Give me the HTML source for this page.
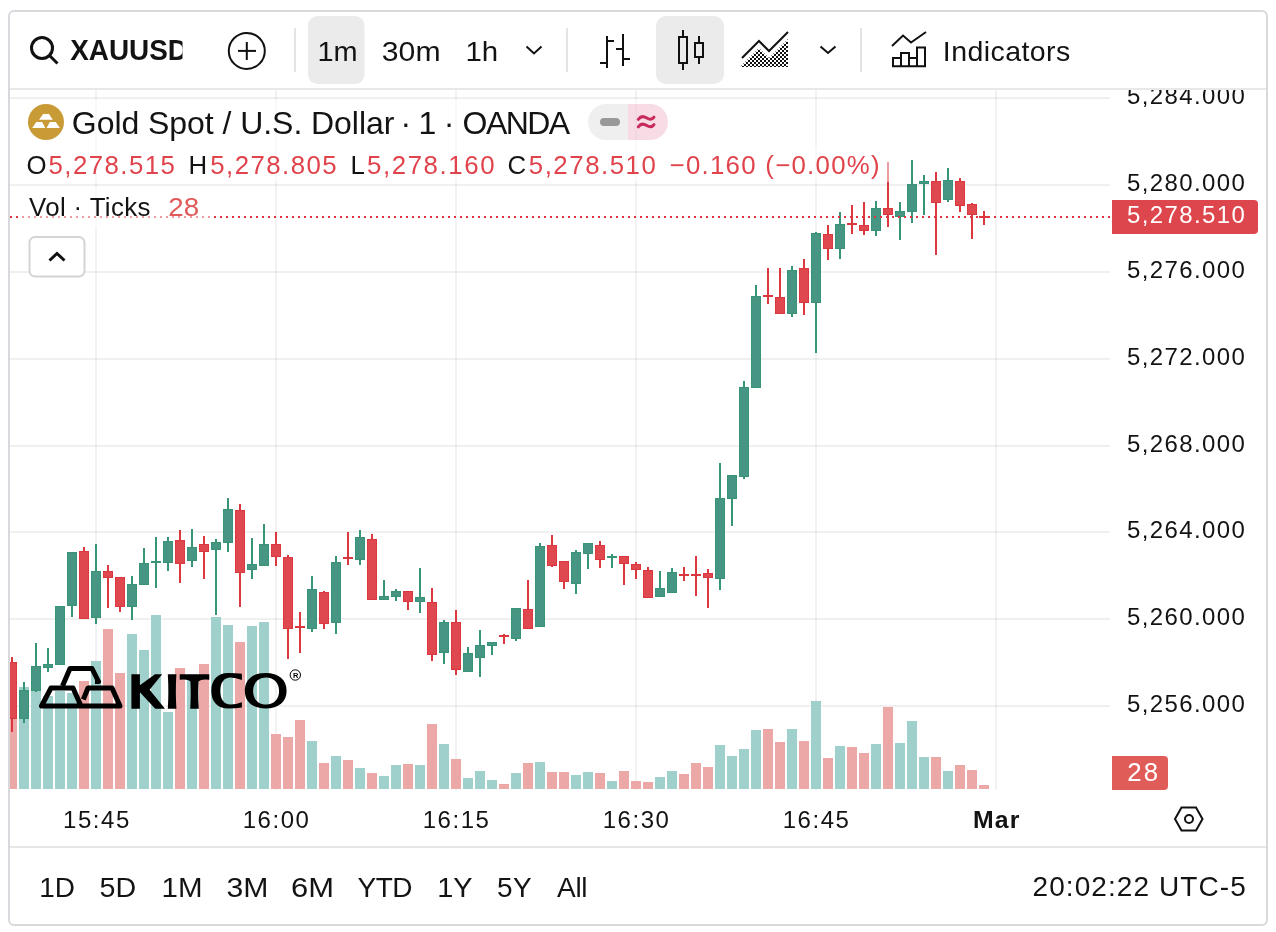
<!DOCTYPE html>
<html><head><meta charset="utf-8"><style>
html,body{margin:0;padding:0;background:#fff;width:1276px;height:932px;overflow:hidden}
svg{position:absolute;left:0;top:0;display:block;will-change:transform}
text{font-family:"Liberation Sans",sans-serif}
</style></head><body>
<svg width="1276" height="932" viewBox="0 0 1276 932" shape-rendering="crispEdges">
<defs>
<clipPath id="pane"><rect x="10" y="90" width="1100" height="700"/></clipPath>
<clipPath id="axis"><rect x="1110" y="90" width="156" height="756"/></clipPath>
<clipPath id="symclip"><rect x="60" y="20" width="122.5" height="60"/></clipPath>
<pattern id="dots" width="4" height="4" patternUnits="userSpaceOnUse" x="0" y="0"><rect x="0" y="0" width="2" height="2" fill="#111"/><rect x="2" y="2" width="2" height="2" fill="#111"/></pattern>
</defs>
<rect x="9" y="11" width="1258" height="914" rx="5" fill="#fff" stroke="#d7d9dc" stroke-width="2" shape-rendering="geometricPrecision"/>
<rect x="10" y="88" width="1256" height="2" fill="#e8e8e8"/>
<rect x="10" y="846" width="1256" height="2" fill="#e6e6e6"/>
<g clip-path="url(#pane)">
<rect x="95" y="90" width="2" height="700" fill="rgba(0,0,0,0.05)"/><rect x="275" y="90" width="2" height="700" fill="rgba(0,0,0,0.05)"/><rect x="455" y="90" width="2" height="700" fill="rgba(0,0,0,0.05)"/><rect x="635" y="90" width="2" height="700" fill="rgba(0,0,0,0.05)"/><rect x="815" y="90" width="2" height="700" fill="rgba(0,0,0,0.05)"/><rect x="995" y="90" width="2" height="700" fill="rgba(0,0,0,0.05)"/><rect x="10" y="705" width="1100" height="2" fill="rgba(0,0,0,0.06)"/><rect x="10" y="618" width="1100" height="2" fill="rgba(0,0,0,0.06)"/><rect x="10" y="531" width="1100" height="2" fill="rgba(0,0,0,0.06)"/><rect x="10" y="445" width="1100" height="2" fill="rgba(0,0,0,0.06)"/><rect x="10" y="358" width="1100" height="2" fill="rgba(0,0,0,0.06)"/><rect x="10" y="271" width="1100" height="2" fill="rgba(0,0,0,0.06)"/><rect x="10" y="184" width="1100" height="2" fill="rgba(0,0,0,0.06)"/><rect x="10" y="97" width="1100" height="2" fill="rgba(0,0,0,0.06)"/>
<rect x="7" y="700" width="10" height="89" fill="#eba8a6"/><rect x="19" y="687" width="10" height="102" fill="#a0d0cb"/><rect x="31" y="691" width="10" height="98" fill="#a0d0cb"/><rect x="43" y="696" width="10" height="93" fill="#a0d0cb"/><rect x="55" y="691" width="10" height="98" fill="#a0d0cb"/><rect x="67" y="693" width="10" height="96" fill="#a0d0cb"/><rect x="79" y="681" width="10" height="108" fill="#eba8a6"/><rect x="91" y="661" width="10" height="128" fill="#a0d0cb"/><rect x="103" y="629" width="10" height="160" fill="#eba8a6"/><rect x="115" y="673" width="10" height="116" fill="#eba8a6"/><rect x="127" y="634" width="10" height="155" fill="#a0d0cb"/><rect x="139" y="650" width="10" height="139" fill="#a0d0cb"/><rect x="151" y="615" width="10" height="174" fill="#a0d0cb"/><rect x="163" y="712" width="10" height="77" fill="#a0d0cb"/><rect x="175" y="668" width="10" height="121" fill="#eba8a6"/><rect x="187" y="676" width="10" height="113" fill="#a0d0cb"/><rect x="199" y="664" width="10" height="125" fill="#eba8a6"/><rect x="211" y="617" width="10" height="172" fill="#a0d0cb"/><rect x="223" y="625" width="10" height="164" fill="#a0d0cb"/><rect x="235" y="642" width="10" height="147" fill="#eba8a6"/><rect x="247" y="626" width="10" height="163" fill="#a0d0cb"/><rect x="259" y="622" width="10" height="167" fill="#a0d0cb"/><rect x="271" y="734" width="10" height="55" fill="#eba8a6"/><rect x="283" y="737" width="10" height="52" fill="#eba8a6"/><rect x="295" y="720" width="10" height="69" fill="#eba8a6"/><rect x="307" y="741" width="10" height="48" fill="#a0d0cb"/><rect x="319" y="763" width="10" height="26" fill="#eba8a6"/><rect x="331" y="756" width="10" height="33" fill="#a0d0cb"/><rect x="343" y="760" width="10" height="29" fill="#eba8a6"/><rect x="355" y="768" width="10" height="21" fill="#a0d0cb"/><rect x="367" y="773" width="10" height="16" fill="#eba8a6"/><rect x="379" y="776" width="10" height="13" fill="#a0d0cb"/><rect x="391" y="765" width="10" height="24" fill="#a0d0cb"/><rect x="403" y="764" width="10" height="25" fill="#eba8a6"/><rect x="415" y="765" width="10" height="24" fill="#a0d0cb"/><rect x="427" y="724" width="10" height="65" fill="#eba8a6"/><rect x="439" y="744" width="10" height="45" fill="#a0d0cb"/><rect x="451" y="759" width="10" height="30" fill="#eba8a6"/><rect x="463" y="778" width="10" height="11" fill="#a0d0cb"/><rect x="475" y="771" width="10" height="18" fill="#a0d0cb"/><rect x="487" y="780" width="10" height="9" fill="#a0d0cb"/><rect x="499" y="784" width="10" height="5" fill="#eba8a6"/><rect x="511" y="773" width="10" height="16" fill="#a0d0cb"/><rect x="523" y="763" width="10" height="26" fill="#eba8a6"/><rect x="535" y="762" width="10" height="27" fill="#a0d0cb"/><rect x="547" y="772" width="10" height="17" fill="#eba8a6"/><rect x="559" y="772" width="10" height="17" fill="#eba8a6"/><rect x="571" y="775" width="10" height="14" fill="#a0d0cb"/><rect x="583" y="772" width="10" height="17" fill="#a0d0cb"/><rect x="595" y="773" width="10" height="16" fill="#eba8a6"/><rect x="607" y="781" width="10" height="8" fill="#a0d0cb"/><rect x="619" y="771" width="10" height="18" fill="#eba8a6"/><rect x="631" y="781" width="10" height="8" fill="#eba8a6"/><rect x="643" y="782" width="10" height="7" fill="#eba8a6"/><rect x="655" y="777" width="10" height="12" fill="#a0d0cb"/><rect x="667" y="771" width="10" height="18" fill="#a0d0cb"/><rect x="679" y="774" width="10" height="15" fill="#eba8a6"/><rect x="691" y="763" width="10" height="26" fill="#eba8a6"/><rect x="703" y="767" width="10" height="22" fill="#eba8a6"/><rect x="715" y="745" width="10" height="44" fill="#a0d0cb"/><rect x="727" y="756" width="10" height="33" fill="#a0d0cb"/><rect x="739" y="749" width="10" height="40" fill="#a0d0cb"/><rect x="751" y="730" width="10" height="59" fill="#a0d0cb"/><rect x="763" y="729" width="10" height="60" fill="#eba8a6"/><rect x="775" y="742" width="10" height="47" fill="#eba8a6"/><rect x="787" y="729" width="10" height="60" fill="#a0d0cb"/><rect x="799" y="741" width="10" height="48" fill="#eba8a6"/><rect x="811" y="701" width="10" height="88" fill="#a0d0cb"/><rect x="823" y="758" width="10" height="31" fill="#eba8a6"/><rect x="835" y="746" width="10" height="43" fill="#a0d0cb"/><rect x="847" y="747" width="10" height="42" fill="#eba8a6"/><rect x="859" y="753" width="10" height="36" fill="#eba8a6"/><rect x="871" y="744" width="10" height="45" fill="#a0d0cb"/><rect x="883" y="707" width="10" height="82" fill="#eba8a6"/><rect x="895" y="743" width="10" height="46" fill="#a0d0cb"/><rect x="907" y="721" width="10" height="68" fill="#a0d0cb"/><rect x="919" y="757" width="10" height="32" fill="#a0d0cb"/><rect x="931" y="757" width="10" height="32" fill="#eba8a6"/><rect x="943" y="771" width="10" height="18" fill="#a0d0cb"/><rect x="955" y="765" width="10" height="24" fill="#eba8a6"/><rect x="967" y="770" width="10" height="19" fill="#eba8a6"/><rect x="979" y="785" width="10" height="4" fill="#eba8a6"/>
<g shape-rendering="auto"><g fill="none" stroke="#000" stroke-width="5" stroke-linejoin="round" stroke-linecap="butt">
<path d="M62.5 686 L70 668.5 L92 668.5 L98.5 681.5 L95 681.5"/>
<path d="M81 706 L73 688 L51 688 L41.5 706 L120 706 L112 688 L88 688 L83.3 699.5"/>
</g>
<path d="M131.4 674.3 H139.9 V685.3 L155 674.3 H162.2 L149.6 689.7 L165 708.8 H155.2 L139.9 692.2 V708.8 H131.4 Z M167.8 674.3 H176.4 Q175.3 691.5 176.4 708.8 H167.8 Q168.9 691.5 167.8 674.3 Z M179.7 674.3 H209.3 V679.7 Q201 678.6 198.6 681.6 Q197.9 695 198.8 708.8 H190.2 Q191.1 695 190.4 681.6 Q188 678.6 179.7 679.7 Z M241.9 673.7 Q236 672.9 228.5 672.9 C217 672.9 211.3 680.5 211.3 690.7 C211.3 701 217 708.5 228.5 708.5 Q236 708.5 241.9 707.6 V702.2 Q236 704.5 230.5 704.5 C224 704.5 220.2 699 220.2 690.9 C220.2 682.6 224 677.4 230.5 677.4 Q236 677.4 241.9 679.9 Z M244.80 690.70 C244.80 679.66 252.74 672.90 265.70 672.90 C278.66 672.90 286.60 679.66 286.60 690.70 C286.60 701.74 278.66 708.50 265.70 708.50 C252.74 708.50 244.80 701.74 244.80 690.70 Z M253.10 691.00 C253.10 682.84 258.30 677.40 266.10 677.40 C273.90 677.40 279.10 682.84 279.10 691.00 C279.10 699.16 273.90 704.60 266.10 704.60 C258.30 704.60 253.10 699.16 253.10 691.00 Z" fill="#000" fill-rule="evenodd"/>
<circle cx="295.3" cy="675" r="5.2" fill="none" stroke="#000" stroke-width="1.0"/>
<text x="295.6" y="678.0" font-family="Liberation Sans" font-weight="bold" font-size="7.5" text-anchor="middle" fill="#000">R</text>
</g>
<rect x="11" y="657" width="2" height="5" fill="#da383e"/><rect x="11" y="719" width="2" height="13" fill="#da383e"/><rect x="7" y="662" width="10" height="57" fill="#da383e"/><rect x="8" y="663" width="8" height="55" fill="#de484e"/><rect x="23" y="682" width="2" height="8" fill="#389476"/><rect x="23" y="719" width="2" height="4" fill="#389476"/><rect x="19" y="690" width="10" height="29" fill="#389476"/><rect x="20" y="691" width="8" height="27" fill="#469683"/><rect x="35" y="643" width="2" height="23" fill="#389476"/><rect x="35" y="691" width="2" height="1" fill="#389476"/><rect x="31" y="666" width="10" height="25" fill="#389476"/><rect x="32" y="667" width="8" height="23" fill="#469683"/><rect x="47" y="648" width="2" height="16" fill="#389476"/><rect x="47" y="668" width="2" height="4" fill="#389476"/><rect x="43" y="664" width="10" height="4" fill="#389476"/><rect x="44" y="665" width="8" height="2" fill="#469683"/><rect x="55" y="606" width="10" height="59" fill="#389476"/><rect x="56" y="607" width="8" height="57" fill="#469683"/><rect x="71" y="606" width="2" height="11" fill="#389476"/><rect x="67" y="552" width="10" height="54" fill="#389476"/><rect x="68" y="553" width="8" height="52" fill="#469683"/><rect x="83" y="547" width="2" height="4" fill="#da383e"/><rect x="79" y="551" width="10" height="68" fill="#da383e"/><rect x="80" y="552" width="8" height="66" fill="#de484e"/><rect x="95" y="544" width="2" height="27" fill="#389476"/><rect x="95" y="618" width="2" height="6" fill="#389476"/><rect x="91" y="571" width="10" height="47" fill="#389476"/><rect x="92" y="572" width="8" height="45" fill="#469683"/><rect x="107" y="565" width="2" height="6" fill="#da383e"/><rect x="107" y="578" width="2" height="30" fill="#da383e"/><rect x="103" y="571" width="10" height="7" fill="#da383e"/><rect x="104" y="572" width="8" height="5" fill="#de484e"/><rect x="119" y="607" width="2" height="5" fill="#da383e"/><rect x="115" y="577" width="10" height="30" fill="#da383e"/><rect x="116" y="578" width="8" height="28" fill="#de484e"/><rect x="131" y="576" width="2" height="8" fill="#389476"/><rect x="131" y="607" width="2" height="13" fill="#389476"/><rect x="127" y="584" width="10" height="23" fill="#389476"/><rect x="128" y="585" width="8" height="21" fill="#469683"/><rect x="143" y="548" width="2" height="15" fill="#389476"/><rect x="139" y="563" width="10" height="22" fill="#389476"/><rect x="140" y="564" width="8" height="20" fill="#469683"/><rect x="155" y="537" width="2" height="24" fill="#389476"/><rect x="155" y="563" width="2" height="25" fill="#389476"/><rect x="151" y="561" width="10" height="2" fill="#389476"/><rect x="167" y="537" width="2" height="4" fill="#389476"/><rect x="167" y="563" width="2" height="8" fill="#389476"/><rect x="163" y="541" width="10" height="22" fill="#389476"/><rect x="164" y="542" width="8" height="20" fill="#469683"/><rect x="179" y="530" width="2" height="10" fill="#da383e"/><rect x="179" y="564" width="2" height="19" fill="#da383e"/><rect x="175" y="540" width="10" height="24" fill="#da383e"/><rect x="176" y="541" width="8" height="22" fill="#de484e"/><rect x="191" y="529" width="2" height="18" fill="#389476"/><rect x="191" y="561" width="2" height="6" fill="#389476"/><rect x="187" y="547" width="10" height="14" fill="#389476"/><rect x="188" y="548" width="8" height="12" fill="#469683"/><rect x="203" y="536" width="2" height="8" fill="#da383e"/><rect x="203" y="552" width="2" height="27" fill="#da383e"/><rect x="199" y="544" width="10" height="8" fill="#da383e"/><rect x="200" y="545" width="8" height="6" fill="#de484e"/><rect x="215" y="539" width="2" height="3" fill="#389476"/><rect x="215" y="550" width="2" height="65" fill="#389476"/><rect x="211" y="542" width="10" height="8" fill="#389476"/><rect x="212" y="543" width="8" height="6" fill="#469683"/><rect x="227" y="498" width="2" height="11" fill="#389476"/><rect x="227" y="543" width="2" height="9" fill="#389476"/><rect x="223" y="509" width="10" height="34" fill="#389476"/><rect x="224" y="510" width="8" height="32" fill="#469683"/><rect x="239" y="504" width="2" height="6" fill="#da383e"/><rect x="239" y="573" width="2" height="34" fill="#da383e"/><rect x="235" y="510" width="10" height="63" fill="#da383e"/><rect x="236" y="511" width="8" height="61" fill="#de484e"/><rect x="251" y="538" width="2" height="26" fill="#389476"/><rect x="251" y="570" width="2" height="9" fill="#389476"/><rect x="247" y="564" width="10" height="6" fill="#389476"/><rect x="248" y="565" width="8" height="4" fill="#469683"/><rect x="263" y="524" width="2" height="20" fill="#389476"/><rect x="259" y="544" width="10" height="22" fill="#389476"/><rect x="260" y="545" width="8" height="20" fill="#469683"/><rect x="275" y="532" width="2" height="12" fill="#da383e"/><rect x="275" y="557" width="2" height="9" fill="#da383e"/><rect x="271" y="544" width="10" height="13" fill="#da383e"/><rect x="272" y="545" width="8" height="11" fill="#de484e"/><rect x="287" y="555" width="2" height="2" fill="#da383e"/><rect x="287" y="629" width="2" height="30" fill="#da383e"/><rect x="283" y="557" width="10" height="72" fill="#da383e"/><rect x="284" y="558" width="8" height="70" fill="#de484e"/><rect x="299" y="612" width="2" height="14" fill="#da383e"/><rect x="299" y="628" width="2" height="25" fill="#da383e"/><rect x="295" y="626" width="10" height="2" fill="#da383e"/><rect x="311" y="576" width="2" height="13" fill="#389476"/><rect x="311" y="629" width="2" height="3" fill="#389476"/><rect x="307" y="589" width="10" height="40" fill="#389476"/><rect x="308" y="590" width="8" height="38" fill="#469683"/><rect x="323" y="591" width="2" height="1" fill="#da383e"/><rect x="323" y="624" width="2" height="5" fill="#da383e"/><rect x="319" y="592" width="10" height="32" fill="#da383e"/><rect x="320" y="593" width="8" height="30" fill="#de484e"/><rect x="335" y="556" width="2" height="6" fill="#389476"/><rect x="335" y="623" width="2" height="11" fill="#389476"/><rect x="331" y="562" width="10" height="61" fill="#389476"/><rect x="332" y="563" width="8" height="59" fill="#469683"/><rect x="347" y="532" width="2" height="25" fill="#da383e"/><rect x="347" y="559" width="2" height="6" fill="#da383e"/><rect x="343" y="557" width="10" height="2" fill="#da383e"/><rect x="359" y="530" width="2" height="7" fill="#389476"/><rect x="359" y="560" width="2" height="5" fill="#389476"/><rect x="355" y="537" width="10" height="23" fill="#389476"/><rect x="356" y="538" width="8" height="21" fill="#469683"/><rect x="371" y="534" width="2" height="5" fill="#da383e"/><rect x="367" y="539" width="10" height="61" fill="#da383e"/><rect x="368" y="540" width="8" height="59" fill="#de484e"/><rect x="383" y="580" width="2" height="16" fill="#389476"/><rect x="379" y="596" width="10" height="4" fill="#389476"/><rect x="380" y="597" width="8" height="2" fill="#469683"/><rect x="395" y="589" width="2" height="2" fill="#389476"/><rect x="395" y="597" width="2" height="4" fill="#389476"/><rect x="391" y="591" width="10" height="6" fill="#389476"/><rect x="392" y="592" width="8" height="4" fill="#469683"/><rect x="407" y="602" width="2" height="8" fill="#da383e"/><rect x="403" y="591" width="10" height="11" fill="#da383e"/><rect x="404" y="592" width="8" height="9" fill="#de484e"/><rect x="419" y="568" width="2" height="29" fill="#389476"/><rect x="419" y="602" width="2" height="11" fill="#389476"/><rect x="415" y="597" width="10" height="5" fill="#389476"/><rect x="416" y="598" width="8" height="3" fill="#469683"/><rect x="431" y="588" width="2" height="14" fill="#da383e"/><rect x="431" y="655" width="2" height="6" fill="#da383e"/><rect x="427" y="602" width="10" height="53" fill="#da383e"/><rect x="428" y="603" width="8" height="51" fill="#de484e"/><rect x="443" y="620" width="2" height="2" fill="#389476"/><rect x="443" y="653" width="2" height="11" fill="#389476"/><rect x="439" y="622" width="10" height="31" fill="#389476"/><rect x="440" y="623" width="8" height="29" fill="#469683"/><rect x="455" y="610" width="2" height="12" fill="#da383e"/><rect x="455" y="670" width="2" height="5" fill="#da383e"/><rect x="451" y="622" width="10" height="48" fill="#da383e"/><rect x="452" y="623" width="8" height="46" fill="#de484e"/><rect x="467" y="647" width="2" height="6" fill="#389476"/><rect x="463" y="653" width="10" height="19" fill="#389476"/><rect x="464" y="654" width="8" height="17" fill="#469683"/><rect x="479" y="630" width="2" height="15" fill="#389476"/><rect x="479" y="658" width="2" height="19" fill="#389476"/><rect x="475" y="645" width="10" height="13" fill="#389476"/><rect x="476" y="646" width="8" height="11" fill="#469683"/><rect x="491" y="646" width="2" height="9" fill="#389476"/><rect x="487" y="642" width="10" height="4" fill="#389476"/><rect x="488" y="643" width="8" height="2" fill="#469683"/><rect x="503" y="634" width="2" height="1" fill="#da383e"/><rect x="503" y="637" width="2" height="7" fill="#da383e"/><rect x="499" y="635" width="10" height="2" fill="#da383e"/><rect x="515" y="639" width="2" height="2" fill="#389476"/><rect x="511" y="608" width="10" height="31" fill="#389476"/><rect x="512" y="609" width="8" height="29" fill="#469683"/><rect x="527" y="580" width="2" height="29" fill="#da383e"/><rect x="523" y="609" width="10" height="20" fill="#da383e"/><rect x="524" y="610" width="8" height="18" fill="#de484e"/><rect x="539" y="543" width="2" height="3" fill="#389476"/><rect x="535" y="546" width="10" height="81" fill="#389476"/><rect x="536" y="547" width="8" height="79" fill="#469683"/><rect x="551" y="535" width="2" height="10" fill="#da383e"/><rect x="551" y="566" width="2" height="1" fill="#da383e"/><rect x="547" y="545" width="10" height="21" fill="#da383e"/><rect x="548" y="546" width="8" height="19" fill="#de484e"/><rect x="563" y="582" width="2" height="7" fill="#da383e"/><rect x="559" y="561" width="10" height="21" fill="#da383e"/><rect x="560" y="562" width="8" height="19" fill="#de484e"/><rect x="575" y="550" width="2" height="2" fill="#389476"/><rect x="575" y="584" width="2" height="10" fill="#389476"/><rect x="571" y="552" width="10" height="32" fill="#389476"/><rect x="572" y="553" width="8" height="30" fill="#469683"/><rect x="587" y="554" width="2" height="15" fill="#389476"/><rect x="583" y="543" width="10" height="11" fill="#389476"/><rect x="584" y="544" width="8" height="9" fill="#469683"/><rect x="599" y="541" width="2" height="4" fill="#da383e"/><rect x="599" y="560" width="2" height="8" fill="#da383e"/><rect x="595" y="545" width="10" height="15" fill="#da383e"/><rect x="596" y="546" width="8" height="13" fill="#de484e"/><rect x="611" y="554" width="2" height="2" fill="#389476"/><rect x="611" y="558" width="2" height="10" fill="#389476"/><rect x="607" y="556" width="10" height="2" fill="#389476"/><rect x="623" y="564" width="2" height="21" fill="#da383e"/><rect x="619" y="556" width="10" height="8" fill="#da383e"/><rect x="620" y="557" width="8" height="6" fill="#de484e"/><rect x="635" y="562" width="2" height="2" fill="#da383e"/><rect x="635" y="570" width="2" height="9" fill="#da383e"/><rect x="631" y="564" width="10" height="6" fill="#da383e"/><rect x="632" y="565" width="8" height="4" fill="#de484e"/><rect x="647" y="567" width="2" height="3" fill="#da383e"/><rect x="643" y="570" width="10" height="28" fill="#da383e"/><rect x="644" y="571" width="8" height="26" fill="#de484e"/><rect x="659" y="571" width="2" height="17" fill="#389476"/><rect x="655" y="588" width="10" height="9" fill="#389476"/><rect x="656" y="589" width="8" height="7" fill="#469683"/><rect x="671" y="568" width="2" height="4" fill="#389476"/><rect x="667" y="572" width="10" height="21" fill="#389476"/><rect x="668" y="573" width="8" height="19" fill="#469683"/><rect x="683" y="567" width="2" height="7" fill="#da383e"/><rect x="683" y="576" width="2" height="5" fill="#da383e"/><rect x="679" y="574" width="10" height="2" fill="#da383e"/><rect x="695" y="556" width="2" height="18" fill="#da383e"/><rect x="695" y="576" width="2" height="20" fill="#da383e"/><rect x="691" y="574" width="10" height="2" fill="#da383e"/><rect x="707" y="569" width="2" height="4" fill="#da383e"/><rect x="707" y="578" width="2" height="30" fill="#da383e"/><rect x="703" y="573" width="10" height="5" fill="#da383e"/><rect x="704" y="574" width="8" height="3" fill="#de484e"/><rect x="719" y="463" width="2" height="35" fill="#389476"/><rect x="719" y="579" width="2" height="11" fill="#389476"/><rect x="715" y="498" width="10" height="81" fill="#389476"/><rect x="716" y="499" width="8" height="79" fill="#469683"/><rect x="731" y="499" width="2" height="27" fill="#389476"/><rect x="727" y="475" width="10" height="24" fill="#389476"/><rect x="728" y="476" width="8" height="22" fill="#469683"/><rect x="743" y="381" width="2" height="6" fill="#389476"/><rect x="743" y="477" width="2" height="2" fill="#389476"/><rect x="739" y="387" width="10" height="90" fill="#389476"/><rect x="740" y="388" width="8" height="88" fill="#469683"/><rect x="755" y="285" width="2" height="11" fill="#389476"/><rect x="751" y="296" width="10" height="92" fill="#389476"/><rect x="752" y="297" width="8" height="90" fill="#469683"/><rect x="767" y="268" width="2" height="27" fill="#da383e"/><rect x="767" y="297" width="2" height="7" fill="#da383e"/><rect x="763" y="295" width="10" height="2" fill="#da383e"/><rect x="779" y="268" width="2" height="29" fill="#da383e"/><rect x="775" y="297" width="10" height="17" fill="#da383e"/><rect x="776" y="298" width="8" height="15" fill="#de484e"/><rect x="791" y="266" width="2" height="4" fill="#389476"/><rect x="791" y="314" width="2" height="3" fill="#389476"/><rect x="787" y="270" width="10" height="44" fill="#389476"/><rect x="788" y="271" width="8" height="42" fill="#469683"/><rect x="803" y="259" width="2" height="9" fill="#da383e"/><rect x="803" y="303" width="2" height="12" fill="#da383e"/><rect x="799" y="268" width="10" height="35" fill="#da383e"/><rect x="800" y="269" width="8" height="33" fill="#de484e"/><rect x="815" y="232" width="2" height="1" fill="#389476"/><rect x="815" y="303" width="2" height="50" fill="#389476"/><rect x="811" y="233" width="10" height="70" fill="#389476"/><rect x="812" y="234" width="8" height="68" fill="#469683"/><rect x="827" y="225" width="2" height="9" fill="#da383e"/><rect x="827" y="249" width="2" height="11" fill="#da383e"/><rect x="823" y="234" width="10" height="15" fill="#da383e"/><rect x="824" y="235" width="8" height="13" fill="#de484e"/><rect x="839" y="212" width="2" height="12" fill="#389476"/><rect x="839" y="249" width="2" height="10" fill="#389476"/><rect x="835" y="224" width="10" height="25" fill="#389476"/><rect x="836" y="225" width="8" height="23" fill="#469683"/><rect x="851" y="205" width="2" height="18" fill="#da383e"/><rect x="851" y="225" width="2" height="9" fill="#da383e"/><rect x="847" y="223" width="10" height="2" fill="#da383e"/><rect x="863" y="202" width="2" height="23" fill="#da383e"/><rect x="863" y="231" width="2" height="4" fill="#da383e"/><rect x="859" y="225" width="10" height="6" fill="#da383e"/><rect x="860" y="226" width="8" height="4" fill="#de484e"/><rect x="875" y="201" width="2" height="7" fill="#389476"/><rect x="875" y="231" width="2" height="5" fill="#389476"/><rect x="871" y="208" width="10" height="23" fill="#389476"/><rect x="872" y="209" width="8" height="21" fill="#469683"/><rect x="887" y="162" width="2" height="46" fill="#da383e"/><rect x="887" y="215" width="2" height="12" fill="#da383e"/><rect x="883" y="208" width="10" height="7" fill="#da383e"/><rect x="884" y="209" width="8" height="5" fill="#de484e"/><rect x="899" y="202" width="2" height="9" fill="#389476"/><rect x="899" y="217" width="2" height="23" fill="#389476"/><rect x="895" y="211" width="10" height="6" fill="#389476"/><rect x="896" y="212" width="8" height="4" fill="#469683"/><rect x="911" y="160" width="2" height="24" fill="#389476"/><rect x="911" y="212" width="2" height="11" fill="#389476"/><rect x="907" y="184" width="10" height="28" fill="#389476"/><rect x="908" y="185" width="8" height="26" fill="#469683"/><rect x="923" y="175" width="2" height="6" fill="#389476"/><rect x="923" y="184" width="2" height="31" fill="#389476"/><rect x="919" y="181" width="10" height="3" fill="#389476"/><rect x="920" y="182" width="8" height="1" fill="#469683"/><rect x="935" y="172" width="2" height="9" fill="#da383e"/><rect x="935" y="203" width="2" height="52" fill="#da383e"/><rect x="931" y="181" width="10" height="22" fill="#da383e"/><rect x="932" y="182" width="8" height="20" fill="#de484e"/><rect x="947" y="168" width="2" height="12" fill="#389476"/><rect x="947" y="200" width="2" height="2" fill="#389476"/><rect x="943" y="180" width="10" height="20" fill="#389476"/><rect x="944" y="181" width="8" height="18" fill="#469683"/><rect x="959" y="178" width="2" height="3" fill="#da383e"/><rect x="959" y="206" width="2" height="6" fill="#da383e"/><rect x="955" y="181" width="10" height="25" fill="#da383e"/><rect x="956" y="182" width="8" height="23" fill="#de484e"/><rect x="971" y="203" width="2" height="1" fill="#da383e"/><rect x="971" y="215" width="2" height="24" fill="#da383e"/><rect x="967" y="204" width="10" height="11" fill="#da383e"/><rect x="968" y="205" width="8" height="9" fill="#de484e"/><rect x="983" y="211" width="2" height="5" fill="#da383e"/><rect x="983" y="218" width="2" height="7" fill="#da383e"/><rect x="979" y="216" width="10" height="2" fill="#da383e"/>
<line x1="10" y1="217" x2="1110" y2="217" stroke="#df3341" stroke-width="2" stroke-dasharray="2 4"/>
<rect x="20" y="99" width="656" height="47" fill="rgba(255,255,255,0.5)"/>
<rect x="20" y="146" width="870" height="36" fill="rgba(255,255,255,0.5)"/>
<rect x="20" y="187" width="192" height="42" fill="rgba(255,255,255,0.5)"/>
</g>
<g shape-rendering="geometricPrecision">

<!-- search -->
<circle cx="42" cy="48" r="10.5" fill="none" stroke="#111" stroke-width="3"/>
<line x1="49.5" y1="55.5" x2="57.5" y2="63.5" stroke="#111" stroke-width="3"/>
<!-- plus circle -->
<circle cx="246.8" cy="50.9" r="18" fill="none" stroke="#111" stroke-width="2"/>
<rect x="238" y="49.9" width="18" height="2" fill="#111"/>
<rect x="245.8" y="42" width="2" height="18" fill="#111"/>
<!-- separators -->
<rect x="294" y="28" width="2" height="44" fill="#e3e3e3"/>
<rect x="566" y="28" width="2" height="44" fill="#e3e3e3"/>
<rect x="860" y="28" width="2" height="44" fill="#e3e3e3"/>
<!-- active bgs -->
<rect x="308" y="16" width="56.5" height="68" rx="9.5" fill="#ebebeb"/>
<rect x="656" y="16" width="68" height="68" rx="10" fill="#ebebeb"/>
<!-- chevron -->
<path d="M526.5 46.5 L534 53.5 L541.5 46.5" fill="none" stroke="#111" stroke-width="2"/>
<path d="M820.5 46.5 L828 53 L835.5 46.5" fill="none" stroke="#111" stroke-width="2"/>
<!-- bars icon -->
<g fill="#111">
<rect x="606" y="36" width="2" height="32"/><rect x="608" y="40" width="6" height="2"/><rect x="600" y="62" width="6" height="2"/>
<rect x="622" y="34" width="2" height="32"/><rect x="616" y="48" width="6" height="2"/><rect x="624" y="58" width="6" height="2"/>
</g>
<!-- candles icon -->
<g fill="none" stroke="#111" stroke-width="2">
<rect x="679" y="37" width="8" height="26"/>
<rect x="695" y="43" width="8" height="14"/>
</g>
<g fill="#111">
<rect x="682" y="30" width="2" height="6"/><rect x="682" y="64" width="2" height="6"/>
<rect x="698" y="36" width="2" height="6"/><rect x="698" y="58" width="2" height="6"/>
</g>
<!-- area icon -->
<path d="M740 67 L759 48 L769 58 L788 39 L788 67 Z" fill="url(#dots)"/>
<path d="M742 58 L759 41 L769 51 L788 32" fill="none" stroke="#111" stroke-width="2"/>
<!-- indicators icon -->
<path d="M892 46 L903 35.5 L911 42.5 L926 32" fill="none" stroke="#111" stroke-width="2"/>
<path d="M893 66.3 V58 H901 V53 H909 V58 H917 V47.5 H925 V66.3 Z M901 58 V66 M909 58 V66 M917 58 V66" fill="none" stroke="#111" stroke-width="2"/>
<!-- gold icon -->
<circle cx="46" cy="122" r="18" fill="#c99b37"/>
<path d="M43.2 114 H49 L52.8 119.8 H39.1 Z M36.3 122 H42.1 L45.3 128 H32.2 Z M49.8 122 H55.8 L59.9 128 H46.6 Z" fill="#fff"/>
<!-- pill -->
<path d="M606 104 H628 V140 H606 A18 18 0 0 1 606 104 Z" fill="rgba(110,110,110,0.11)"/>
<path d="M628 104 H650 A18 18 0 0 1 650 140 H628 Z" fill="rgba(210,50,100,0.17)"/>
<rect x="600" y="118" width="20" height="8" rx="4" fill="#999"/>
<g fill="none" stroke="#c92a5c" stroke-width="3" stroke-linecap="round">
<path d="M638.3 119.3 C640.5 116.3, 643.5 116.0, 646.3 117.8 S 651.8 120.3, 654 117.2"/>
<path d="M638.3 126.8 C640.5 123.8, 643.5 123.5, 646.3 125.3 S 651.8 127.8, 654 124.7"/>
</g>
<!-- collapse button -->
<rect x="29.5" y="237" width="55" height="39.5" rx="5.5" fill="#fff" stroke="#d4d4d4" stroke-width="2"/>
<path d="M49.5 260.5 L57 253.5 L64.5 260.5" fill="none" stroke="#111" stroke-width="3"/>
<!-- settings hex -->
<path d="M1181.5 807.5 H1196 L1202.5 819 L1196 830.5 H1181.5 L1175 819 Z" fill="none" stroke="#111" stroke-width="2"/>
<circle cx="1189" cy="819" r="4" fill="none" stroke="#111" stroke-width="2"/>

</g>
<g clip-path="url(#axis)" shape-rendering="geometricPrecision">

</g>
<g shape-rendering="geometricPrecision">
<g clip-path="url(#symclip)"><text x="0" y="0" transform="translate(70.25 60.0) scale(0.9455 1)" font-size="29.5" fill="#131313" font-weight="bold" xml:space="preserve">XAUUSD</text></g><text x="0" y="0" transform="translate(317.44 61.4) scale(1.0314 1)" font-size="28" fill="#131313" font-weight="normal" xml:space="preserve">1m</text><text x="0" y="0" transform="translate(381.82 61.4) scale(1.0788 1)" font-size="28" fill="#131313" font-weight="normal" xml:space="preserve">30m</text><text x="0" y="0" transform="translate(465.40 61.4) scale(1.0519 1)" font-size="28" fill="#131313" font-weight="normal" xml:space="preserve">1h</text><text x="942.8" y="61.4" font-size="28.5" fill="#131313" text-anchor="start" font-weight="normal" letter-spacing="0.43" xml:space="preserve">Indicators</text><text x="71.8" y="133.7" font-size="32" fill="#131313" text-anchor="start" font-weight="normal" letter-spacing="-0.05" xml:space="preserve">Gold Spot / U.S. Dollar</text><text x="400.4" y="133.7" font-size="32" fill="#131313" text-anchor="start" font-weight="normal" letter-spacing="0.0" xml:space="preserve">·</text><text x="443.8" y="133.7" font-size="32" fill="#131313" text-anchor="start" font-weight="normal" letter-spacing="0.0" xml:space="preserve">·</text><text x="462.6" y="133.7" font-size="32" fill="#131313" text-anchor="start" font-weight="normal" letter-spacing="-1.55" xml:space="preserve">OANDA</text><text x="418.5" y="133.7" font-size="32" fill="#131313" text-anchor="start" font-weight="normal" letter-spacing="0.0" xml:space="preserve">1</text><text x="26.4" y="173.7" font-size="25.8" fill="#131313" text-anchor="start" font-weight="normal" letter-spacing="0.0" xml:space="preserve">O</text><text x="188.5" y="173.7" font-size="25.8" fill="#131313" text-anchor="start" font-weight="normal" letter-spacing="0.0" xml:space="preserve">H</text><text x="350.6" y="173.7" font-size="25.8" fill="#131313" text-anchor="start" font-weight="normal" letter-spacing="0.0" xml:space="preserve">L</text><text x="507.6" y="173.7" font-size="25.8" fill="#131313" text-anchor="start" font-weight="normal" letter-spacing="0.0" xml:space="preserve">C</text><text x="48.5" y="173.7" font-size="25.8" fill="#e0434c" text-anchor="start" font-weight="normal" letter-spacing="1.46" xml:space="preserve">5,278.515</text><text x="210.3" y="173.7" font-size="25.8" fill="#e0434c" text-anchor="start" font-weight="normal" letter-spacing="1.45" xml:space="preserve">5,278.805</text><text x="367.0" y="173.7" font-size="25.8" fill="#e0434c" text-anchor="start" font-weight="normal" letter-spacing="1.59" xml:space="preserve">5,278.160</text><text x="528.8" y="173.7" font-size="25.8" fill="#e0434c" text-anchor="start" font-weight="normal" letter-spacing="1.53" xml:space="preserve">5,278.510</text><text x="669.6" y="173.7" font-size="25.8" fill="#e0434c" text-anchor="start" font-weight="normal" letter-spacing="1.27" xml:space="preserve">−0.160 (−0.00%)</text><text x="29.1" y="215.6" font-size="25.8" fill="#131313" text-anchor="start" font-weight="normal" letter-spacing="0.37" xml:space="preserve">Vol · Ticks</text><text x="0" y="0" transform="translate(168.33 215.6) scale(1.0741 1)" font-size="25.8" fill="#e05a5a" font-weight="normal" xml:space="preserve">28</text><g clip-path="url(#axis)"><text x="1127.0" y="712.2" font-size="24" fill="#131313" text-anchor="start" font-weight="normal" letter-spacing="1.39" xml:space="preserve">5,256.000</text></g><g clip-path="url(#axis)"><text x="1127.0" y="625.2" font-size="24" fill="#131313" text-anchor="start" font-weight="normal" letter-spacing="1.39" xml:space="preserve">5,260.000</text></g><g clip-path="url(#axis)"><text x="1127.0" y="538.2" font-size="24" fill="#131313" text-anchor="start" font-weight="normal" letter-spacing="1.39" xml:space="preserve">5,264.000</text></g><g clip-path="url(#axis)"><text x="1127.0" y="452.2" font-size="24" fill="#131313" text-anchor="start" font-weight="normal" letter-spacing="1.39" xml:space="preserve">5,268.000</text></g><g clip-path="url(#axis)"><text x="1127.0" y="365.2" font-size="24" fill="#131313" text-anchor="start" font-weight="normal" letter-spacing="1.39" xml:space="preserve">5,272.000</text></g><g clip-path="url(#axis)"><text x="1127.0" y="278.2" font-size="24" fill="#131313" text-anchor="start" font-weight="normal" letter-spacing="1.39" xml:space="preserve">5,276.000</text></g><g clip-path="url(#axis)"><text x="1127.0" y="191.2" font-size="24" fill="#131313" text-anchor="start" font-weight="normal" letter-spacing="1.39" xml:space="preserve">5,280.000</text></g><g clip-path="url(#axis)"><text x="1127.0" y="104.2" font-size="24" fill="#131313" text-anchor="start" font-weight="normal" letter-spacing="1.39" xml:space="preserve">5,284.000</text></g><path d="M1112 200 H1254 A4 4 0 0 1 1258 204 V230 A4 4 0 0 1 1254 234 H1112 Z" fill="#dd464c"/><text x="1127.0" y="222.9" font-size="24" fill="#fff" text-anchor="start" font-weight="normal" letter-spacing="1.39" xml:space="preserve">5,278.510</text><path d="M1112 756 H1164 A4 4 0 0 1 1168 760 V786 A4 4 0 0 1 1164 790 H1112 Z" fill="#e05c58"/><text x="1127.3" y="780.5" font-size="25.8" fill="#fff" text-anchor="start" font-weight="normal" letter-spacing="2.0" xml:space="preserve">28</text><text x="63.0" y="827.8" font-size="24" fill="#131313" text-anchor="start" font-weight="normal" letter-spacing="1.55" xml:space="preserve">15:45</text><text x="242.7" y="827.8" font-size="24" fill="#131313" text-anchor="start" font-weight="normal" letter-spacing="1.55" xml:space="preserve">16:00</text><text x="422.7" y="827.8" font-size="24" fill="#131313" text-anchor="start" font-weight="normal" letter-spacing="1.55" xml:space="preserve">16:15</text><text x="602.7" y="827.8" font-size="24" fill="#131313" text-anchor="start" font-weight="normal" letter-spacing="1.55" xml:space="preserve">16:30</text><text x="782.7" y="827.8" font-size="24" fill="#131313" text-anchor="start" font-weight="normal" letter-spacing="1.55" xml:space="preserve">16:45</text><text x="972.9000000000001" y="828.0" font-size="24.8" fill="#131313" text-anchor="start" font-weight="bold" letter-spacing="1.25" xml:space="preserve">Mar</text><text x="39.3" y="897" font-size="28" fill="#131313" text-anchor="start" font-weight="normal" letter-spacing="-0.1" xml:space="preserve">1D</text><text x="0" y="0" transform="translate(99.48 897) scale(1.0235 1)" font-size="28" fill="#131313" font-weight="normal" xml:space="preserve">5D</text><text x="0" y="0" transform="translate(161.49 897) scale(1.0543 1)" font-size="28" fill="#131313" font-weight="normal" xml:space="preserve">1M</text><text x="0" y="0" transform="translate(226.42 897) scale(1.0778 1)" font-size="28" fill="#131313" font-weight="normal" xml:space="preserve">3M</text><text x="0" y="0" transform="translate(291.09 897) scale(1.1056 1)" font-size="28" fill="#131313" font-weight="normal" xml:space="preserve">6M</text><text x="357.6" y="897" font-size="28" fill="#131313" text-anchor="start" font-weight="normal" letter-spacing="-0.6" xml:space="preserve">YTD</text><text x="0" y="0" transform="translate(437.24 897) scale(1.0323 1)" font-size="28" fill="#131313" font-weight="normal" xml:space="preserve">1Y</text><text x="497.0" y="897" font-size="28" fill="#131313" text-anchor="start" font-weight="normal" letter-spacing="0.5" xml:space="preserve">5Y</text><text x="557.1" y="897" font-size="28" fill="#131313" text-anchor="start" font-weight="normal" letter-spacing="-0.35" xml:space="preserve">All</text><text x="1032.5" y="895.8" font-size="28" fill="#131313" text-anchor="start" font-weight="normal" letter-spacing="1.08" xml:space="preserve">20:02:22 UTC-5</text>
</g>
</svg>
</body></html>
